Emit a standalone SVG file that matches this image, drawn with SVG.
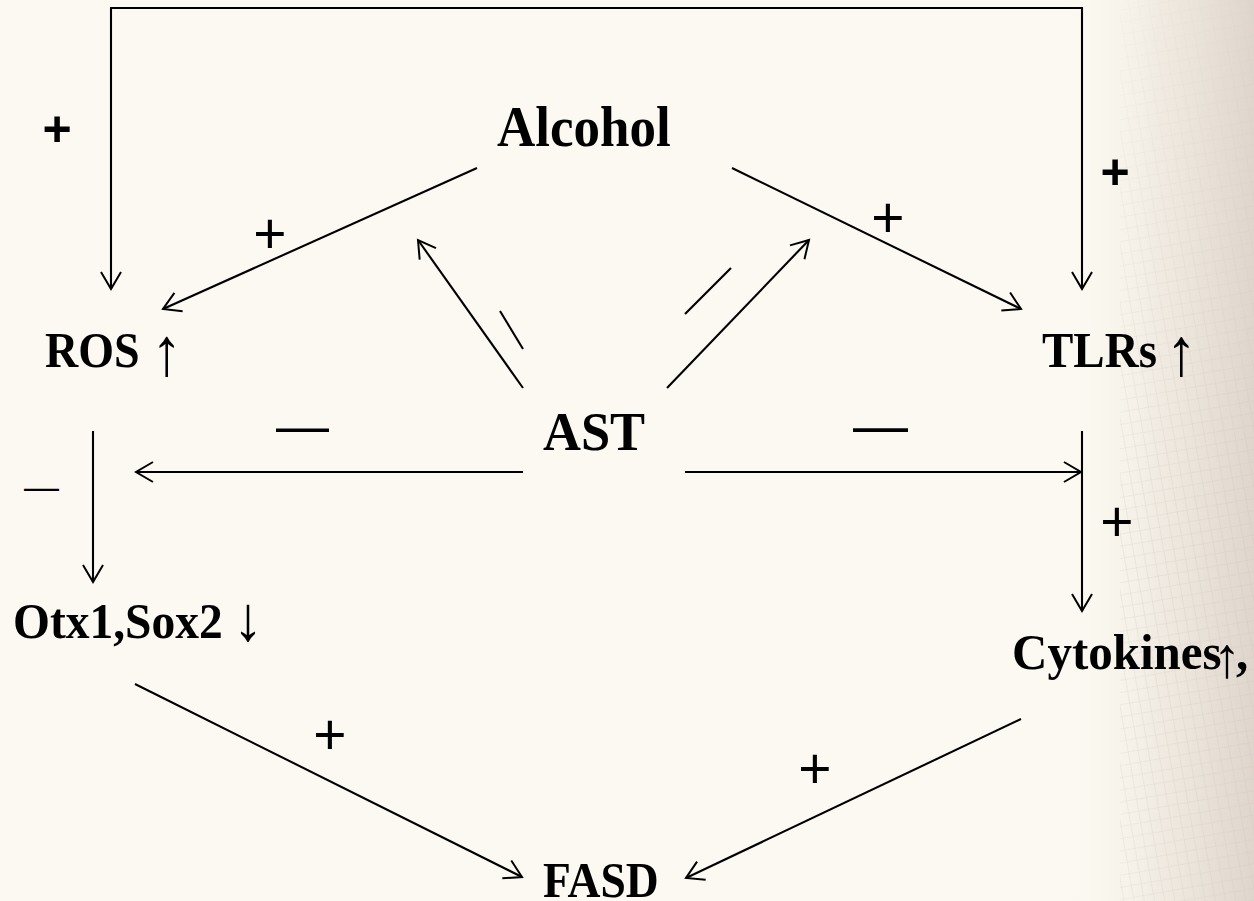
<svg xmlns="http://www.w3.org/2000/svg" width="1254" height="901" viewBox="0 0 1254 901">
<defs>
<linearGradient id="bgR" x1="0" y1="0" x2="1" y2="0">
<stop offset="0" stop-color="#fbf9f1" stop-opacity="0"/>
<stop offset="0.5" stop-color="#ece5dc" stop-opacity="0.7"/>
<stop offset="1" stop-color="#ddd3ca" stop-opacity="0.95"/>
</linearGradient>
<linearGradient id="fadeV" x1="0" y1="0" x2="0" y2="1">
<stop offset="0" stop-color="#fff" stop-opacity="0.2"/>
<stop offset="0.6" stop-color="#fff" stop-opacity="0.9"/>
<stop offset="1" stop-color="#fff" stop-opacity="0.7"/>
</linearGradient>
<mask id="gm"><rect x="1120" y="0" width="134" height="901" fill="url(#fadeV)"/></mask>
<pattern id="grid" width="10" height="12" patternUnits="userSpaceOnUse" patternTransform="rotate(-10)">
<path d="M0,0 L0,12 M0,0 L10,0" stroke="#c9bfb6" stroke-width="1.2" opacity="0.45"/>
</pattern>
<marker id="ah" markerUnits="userSpaceOnUse" markerWidth="40" markerHeight="40" refX="0" refY="0" orient="auto-start-reverse" style="overflow:visible">
<path d="M-17,-10 L0,0 L-17,10" fill="none" stroke="#000" stroke-width="2"/>
</marker>
</defs>
<style>
.node{font-family:"Liberation Serif","Times New Roman",serif;font-weight:bold;fill:#000}
.arr{font-weight:normal}
.ln{stroke:#000;stroke-width:2.1;fill:none}
.plus{font-family:"Liberation Sans",Arial,sans-serif;font-size:57px;fill:#000;text-anchor:middle}
.bplus{font-family:"Liberation Sans",Arial,sans-serif;font-size:50px;font-weight:bold;fill:#000;text-anchor:middle}
.dash{font-family:"Liberation Sans",Arial,sans-serif;fill:#000}
</style>
<rect x="0" y="0" width="1254" height="901" fill="#fbf9f1"/>
<rect x="1060" y="0" width="194" height="901" fill="url(#bgR)"/>
<rect x="1120" y="0" width="134" height="901" fill="url(#grid)" mask="url(#gm)"/>

<g id="connectors">
<path class="ln" d="M111,289 L111,8 L1082,8 L1082,289" stroke-width="2.5" marker-start="url(#ah)" marker-end="url(#ah)"/>
<line class="ln" x1="477" y1="168" x2="163" y2="309" marker-end="url(#ah)"/>
<line class="ln" x1="732" y1="168" x2="1021" y2="309" marker-end="url(#ah)"/>
<line class="ln" x1="523" y1="388" x2="418" y2="240" marker-end="url(#ah)"/>
<line class="ln" x1="500" y1="311" x2="523" y2="349"/>
<line class="ln" x1="667" y1="388" x2="809" y2="240" marker-end="url(#ah)"/>
<line class="ln" x1="685" y1="314" x2="731" y2="268"/>
<line class="ln" x1="523" y1="472" x2="136" y2="472" marker-end="url(#ah)"/>
<line class="ln" x1="685" y1="472" x2="1081" y2="472" marker-end="url(#ah)"/>
<line class="ln" x1="93" y1="431" x2="93" y2="582" marker-end="url(#ah)"/>
<line class="ln" x1="1082" y1="431" x2="1082" y2="611" marker-end="url(#ah)"/>
<line class="ln" x1="135" y1="684" x2="522" y2="877" marker-end="url(#ah)"/>
<line class="ln" x1="1021" y1="719" x2="686" y2="878" marker-end="url(#ah)"/>
<text class="bplus" x="57" y="146">+</text>
<text class="bplus" x="1115" y="189">+</text>
<text class="plus" x="270" y="253">+</text>
<text class="plus" x="888" y="237">+</text>
<text class="plus" x="1117" y="541">+</text>
<text class="plus" x="330" y="754">+</text>
<text class="plus" x="815" y="788">+</text>
<text class="dash" x="276" y="444" font-size="53">—</text>
<text class="dash" x="853" y="444" font-size="55">—</text>
<text class="dash" x="24" y="499" font-size="35">—</text>
</g>

<g id="alcohol"><text class="node" transform="translate(497,146) scale(1,1.07)" font-size="53">Alcohol</text></g>
<g id="ros"><text class="node" transform="translate(45,367) scale(1,1.1)" font-size="46">ROS <tspan class="arr" x="106" dy="7" font-size="62">↑</tspan></text></g>
<g id="tlrs"><text class="node" transform="translate(1042,367) scale(1,1.09)" font-size="47">TLRs <tspan class="arr" x="124" dy="7" font-size="62">↑</tspan></text></g>
<g id="ast"><text class="node" transform="translate(543,450) scale(1,1.06)" font-size="52.5">AST</text></g>
<g id="otx"><text class="node" transform="translate(13,638) scale(1,1.05)" font-size="47.5">Otx1,Sox2 <tspan class="arr" x="220" dy="2" font-size="60">↓</tspan></text></g>
<g id="cyto"><text class="node" transform="translate(1012,669) scale(1,1.02)" font-size="49">Cytokines<tspan class="arr" x="201" dy="8" font-size="56">↑</tspan><tspan x="224" dy="-8">,</tspan></text></g>
<g id="fasd"><text class="node" transform="translate(543,897) scale(1,1.12)" font-size="45.6">FASD</text></g>
</svg>
